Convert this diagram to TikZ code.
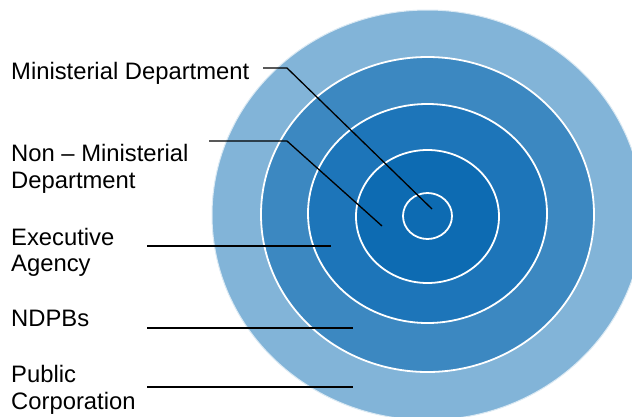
\documentclass[tikz,border=0pt]{standalone}
\usepackage{fontspec}
\setmainfont{Liberation Sans}
\definecolor{bandA}{HTML}{82B4D8}
\definecolor{bandB}{HTML}{3C88C1}
\definecolor{bandC}{HTML}{1D75B9}
\definecolor{bandD}{HTML}{0D6BB2}
\tikzset{
  ring/.style={draw=white, line width=1.8pt},
  lbl/.style={anchor=base west, inner sep=0pt, font=\fontsize{23.8}{26.5}\selectfont, align=left},
  leader/.style={draw=black, line width=1.3pt}
}
\begin{document}
\begin{tikzpicture}[x=1pt,y=-1pt]
\useasboundingbox (0,0) rectangle (632,416);
\begin{scope}
\clip (0,0) rectangle (632,416);
\fill[bandA] (427.5,215) ellipse [x radius=215.5, y radius=205];
\draw[white!70!bandA, line width=1pt] (427.5,215) ellipse [x radius=215.5, y radius=205];
\fill[bandB] (427.5,214.5) ellipse [x radius=166.5, y radius=157.5];
\draw[ring] (427.5,214.5) ellipse [x radius=166.5, y radius=157.5];
\fill[bandC] (427.5,213.5) ellipse [x radius=119.5, y radius=109.5];
\draw[ring] (427.5,213.5) ellipse [x radius=119.5, y radius=109.5];
\fill[bandD] (427.5,216.5) ellipse [x radius=71.5, y radius=66.5];
\draw[ring] (427.5,216.5) ellipse [x radius=71.5, y radius=66.5];
\draw[ring] (427.5,216) ellipse [x radius=24.5, y radius=23];
\end{scope}
\node[lbl] (md) at (11,79.3) {Ministerial Department};
\node[lbl] (nmd) at (11,188) {Non – Ministerial\\Department};
\node[lbl] (ea) at (11,271.7) {Executive\\Agency};
\node[lbl] (nd) at (11,326.7) {NDPBs};
\node[lbl] (pc) at (11,409) {Public\\Corporation};
\coordinate (mdS) at (263,68);
\coordinate (mdK) at (287,68);
\coordinate (mdE) at (432,209);
\coordinate (nmdS) at (209,141);
\coordinate (nmdK) at (287,141);
\coordinate (nmdE) at (382,226);
\coordinate (eaS) at (147,246);
\coordinate (eaE) at (331,246);
\coordinate (ndS) at (147,328);
\coordinate (ndE) at (353,328);
\coordinate (pcS) at (147,387);
\coordinate (pcE) at (353,387);
\draw[leader] (mdS) -- (mdK) -- (mdE);
\draw[leader] (nmdS) -- (nmdK) -- (nmdE);
\draw[leader] (eaS) -- (eaE);
\draw[leader] (ndS) -- (ndE);
\draw[leader] (pcS) -- (pcE);
\end{tikzpicture}
\end{document}
